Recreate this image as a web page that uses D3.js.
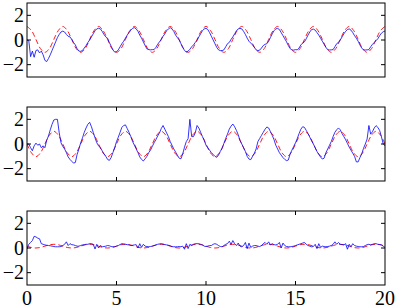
<!DOCTYPE html>
<html>
<head>
<meta charset="utf-8">
<script src="https://cdn.jsdelivr.net/npm/d3@7"></script>
<style>
  html, body { margin: 0; padding: 0; background: #fff; }
  svg { display: block; }
  .tick-label { font-family: "Times New Roman", "Liberation Serif", serif; font-size: 20px; }
</style>
</head>
<body>
<div id="container"></div>
<script>
// DATA
// blue traces sampled every 0.1, red reference traces every 0.25
const blueStep = 0.1;
const redStep = 0.25;

const blue1 = [
  0, -0.05, -1.35, -0.9, -1.4, -0.85, -0.8, -1.05, -0.9, -1.2,
  -1.65, -1.75, -1.5, -1.2, -0.85, -0.5, -0.15, 0.2, 0.45, 0.65,
  0.72, 0.65, 0.45, 0.3, 0.25, 0.05, -0.2, -0.4, -0.7, -0.9,
  -0.92, -0.85, -0.65, -0.45, -0.2, 0.0, 0.25, 0.5, 0.75, 0.9,
  0.95, 0.9, 0.7, 0.45, 0.25, 0.15, -0.2, -0.5, -0.8, -0.98,
  -0.95, -0.8, -0.55, -0.3, -0.1, 0.15, 0.4, 0.6, 0.8, 0.95,
  1.0, 0.9, 0.7, 0.4, 0.15, -0.15, -0.45, -0.72, -0.78, -0.8,
  -0.78, -0.78, -0.6, -0.35, -0.15, 0.05, 0.3, 0.5, 0.75, 0.9,
  1.0, 0.9, 0.7, 0.4, 0.2, 0.0, -0.3, -0.6, -0.85, -0.98,
  -0.9, -0.75, -0.55, -0.4, -0.2, -0.05, 0.25, 0.5, 0.75, 0.9,
  0.95, 0.85, 0.6, 0.3, 0.0, -0.3, -0.6, -0.8, -0.86, -0.86,
  -0.8, -0.55, -0.3, -0.2, 0.05, 0.25, 0.5, 0.75, 0.9, 0.94,
  0.9, 0.7, 0.45, 0.15, -0.1, -0.25, -0.4, -0.6, -0.8, -0.86,
  -0.82, -0.65, -0.45, -0.35, -0.3, -0.1, 0.2, 0.5, 0.75, 0.9,
  0.94, 0.85, 0.6, 0.35, 0.1, -0.15, -0.45, -0.7, -0.8, -0.82,
  -0.78, -0.8, -0.65, -0.4, -0.25, -0.15, 0.1, 0.4, 0.65, 0.85,
  0.88, 0.8, 0.6, 0.4, 0.15, -0.1, -0.35, -0.6, -0.78, -0.81,
  -0.8, -0.78, -0.55, -0.3, -0.2, 0.0, 0.25, 0.5, 0.7, 0.85,
  0.9, 0.8, 0.6, 0.35, 0.15, -0.1, -0.4, -0.65, -0.8, -0.81,
  -0.8, -0.78, -0.55, -0.35, -0.2, -0.05, 0.1, 0.35, 0.55, 0.67,
  0.73
];

const blue2 = [
  0, 0, -0.3, -0.55, -0.15, 0.07, -0.1, 0.0, -0.3, -0.15,
  -0.3, 0.3, 0.65, 1.15, 1.6, 1.95, 2.0, 2.0, 0.9, 0.1,
  -0.2, -0.4, -0.7, -1.05, -1.25, -1.4, -1.55, -1.5, -0.85, -0.4,
  0.1, 0.5, 0.95, 1.3, 1.6, 1.76, 1.4, 0.95, 0.5, 0.1,
  -0.15, -0.3, -0.55, -0.8, -1.0, -1.25, -1.33, -1.1, -0.7, -0.3,
  0.2, 0.55, 0.95, 1.35, 1.5, 1.55, 1.25, 0.95, 0.6, 0.2,
  -0.1, -0.4, -0.7, -1.05, -1.25, -1.38, -1.2, -1.0, -0.7, -0.5,
  -0.2, 0.1, 0.35, 0.65, 0.9, 1.25, 1.5, 1.2, 0.9, 0.6,
  0.2, -0.1, -0.4, -0.65, -0.9, -1.15, -1.2, -0.8, -0.25, 0.2,
  0.43, 2.0, 0.6, 0.6, 0.9, 1.5, 1.3, 0.95, 0.6, 0.3,
  -0.1, -0.3, -0.5, -0.7, -0.85, -1.0, -1.08, -0.9, -0.6, -0.35,
  0.05, 0.45, 0.8, 1.2, 1.45, 1.62, 1.4, 1.1, 0.75, 0.27,
  0.0, -0.3, -0.6, -1.0, -1.22, -1.27, -1.0, -0.75, -0.4, 0.2,
  0.45, 0.7, 0.95, 1.2, 1.38, 1.3, 1.0, 0.7, 0.35, -0.1,
  -0.4, -0.7, -0.9, -1.1, -1.25, -1.35, -1.3, -0.8, -0.5, -0.2,
  0.1, 0.45, 0.85, 1.2, 1.4, 1.35, 1.1, 0.85, 0.55, 0.25,
  0.0, -0.3, -0.6, -0.85, -1.05, -1.22, -1.15, -0.7, -0.4, -0.1,
  0.2, 0.6, 0.95, 1.15, 1.3, 1.15, 0.85, 0.6, 0.35, 0.05,
  -0.25, -0.5, -0.75, -1.0, -1.45, -1.45, -1.1, -0.8, -0.35, 0.0,
  0.4, 1.5, 0.8, 1.0, 1.3, 1.49, 1.35, 1.1, 0.6, 0.0,
  -0.14
];

const blue3 = [
  -0.08, 0.3, 0.45, 0.6, 0.95, 0.9, 0.8, 0.75, 0.35, 0.3,
  0.25, 0.22, 0.2, 0.18, 0.15, 0.12, 0.1, 0.1, 0.1, 0.12,
  0.2, 0.3, 0.5, 0.2, 0.35, 0.27, 0.25, 0.2, 0.15, 0.15,
  0.2, 0.25, 0.27, 0.3, 0.3, 0.35, 0.35, 0.3, -0.08, 0.3,
  0.0, 0.2, 0.1, 0.12, 0.15, 0.2, 0.18, 0.12, 0.1, 0.1,
  0.15, 0.2, 0.28, 0.35, 0.33, 0.3, 0.27, 0.25, 0.2, 0.22,
  0.25, 0.27, 0.0, 0.35, 0.05, 0.3, 0.15, 0.12, 0.1, 0.12,
  0.15, 0.2, 0.25, 0.3, 0.33, 0.35, 0.32, 0.28, 0.25, 0.22,
  0.18, 0.12, 0.1, 0.1, 0.1, 0.12, 0.1, 0.15, -0.1, 0.35,
  -0.05, 0.3, 0.2, 0.3, 0.35, 0.35, 0.35, 0.3, 0.25, 0.15,
  0.12, 0.15, 0.2, 0.2, 0.3, 0.35, 0.3, 0.2, 0.12, 0.1,
  0.2, 0.3, 0.35, 0.55, 0.3, 0.6, 0.35, 0.2, 0.4, 0.15,
  0.1, 0.2, 0.45, -0.05, 0.4, 0.05, 0.15, 0.2, 0.2, 0.15,
  0.12, 0.2, 0.35, 0.45, 0.3, 0.5, 0.25, 0.35, 0.27, 0.25,
  0.3, 0.45, 0.0, 0.4, 0.2, 0.12, 0.1, 0.1, 0.12, 0.15,
  0.2, 0.25, 0.3, 0.35, 0.4, 0.45, 0.3, 0.2, 0.15, 0.1,
  0.12, 0.3, -0.05, 0.35, 0.05, 0.15, 0.12, 0.1, 0.12, 0.15,
  0.2, 0.3, 0.5, 0.3, 0.45, 0.3, 0.27, 0.25, 0.35, -0.1,
  0.3, 0.1, 0.35, 0.2, 0.15, 0.12, 0.1, 0.1, 0.12, 0.2,
  0.27, 0.3, 0.25, 0.3, 0.35, 0.35, 0.3, 0.28, 0.25, 0.15,
  0.05
];

const red1 = [
  1.1, 0.77, 0.05, -0.7, -1.0, -0.7, 0.05, 0.77,
  1.1, 0.77, 0.05, -0.7, -1.0, -0.7, 0.05, 0.77,
  1.1, 0.77, 0.05, -0.7, -1.0, -0.7, 0.05, 0.77,
  1.1, 0.77, 0.05, -0.7, -1.0, -0.7, 0.05, 0.77,
  1.1, 0.77, 0.05, -0.7, -1.0, -0.7, 0.05, 0.77,
  1.1, 0.77, 0.05, -0.7, -1.0, -0.7, 0.05, 0.77,
  1.1, 0.77, 0.05, -0.7, -1.0, -0.7, 0.05, 0.77,
  1.1, 0.77, 0.05, -0.7, -1.0, -0.7, 0.05, 0.77,
  1.1, 0.77, 0.05, -0.7, -1.0, -0.7, 0.05, 0.77,
  1.1, 0.77, 0.05, -0.7, -1.0, -0.7, 0.05, 0.77,
  1.1
];

const red2 = [
  0, -0.72, -1.03, -0.72, 0, 0.72, 1.03, 0.72,
  0, -0.72, -1.03, -0.72, 0, 0.72, 1.03, 0.72,
  0, -0.72, -1.03, -0.72, 0, 0.72, 1.03, 0.72,
  0, -0.72, -1.03, -0.72, 0, 0.72, 1.03, 0.72,
  0, -0.72, -1.03, -0.72, 0, 0.72, 1.03, 0.72,
  0, -0.72, -1.03, -0.72, 0, 0.72, 1.03, 0.72,
  0, -0.72, -1.03, -0.72, 0, 0.72, 1.03, 0.72,
  0, -0.72, -1.03, -0.72, 0, 0.72, 1.03, 0.72,
  0, -0.72, -1.03, -0.72, 0, 0.72, 1.03, 0.72,
  0, -0.72, -1.03, -0.72, 0, 0.72, 1.03, 0.72,
  0
];

const red3 = [
  0.15, 0.04, 0.0, 0.04, 0.15, 0.26, 0.3, 0.26,
  0.15, 0.04, 0.0, 0.04, 0.15, 0.26, 0.3, 0.26,
  0.15, 0.04, 0.0, 0.04, 0.15, 0.26, 0.3, 0.26,
  0.15, 0.04, 0.0, 0.04, 0.15, 0.26, 0.3, 0.26,
  0.15, 0.04, 0.0, 0.04, 0.15, 0.26, 0.3, 0.26,
  0.15, 0.04, 0.0, 0.04, 0.15, 0.26, 0.3, 0.26,
  0.15, 0.04, 0.0, 0.04, 0.15, 0.26, 0.3, 0.26,
  0.15, 0.04, 0.0, 0.04, 0.15, 0.26, 0.3, 0.26,
  0.15, 0.04, 0.0, 0.04, 0.15, 0.26, 0.3, 0.26,
  0.15, 0.04, 0.0, 0.04, 0.15, 0.26, 0.3, 0.26,
  0.15
];

const xTicks = [0, 5, 10, 15, 20];
const yTicks = [-2, 0, 2];

// LAYOUT
const width = 399;
const height = 308;
const margin = ({left: 27, right: 14});
const panelTops = [3, 107, 211];
const panelHeight = 74;
const tickLen = 4;

const panels = [
  {blue: blue1, red: red1, labelX: false},
  {blue: blue2, red: red2, labelX: false},
  {blue: blue3, red: red3, labelX: true}
];

const x = d3.scaleLinear([0, 20], [margin.left, width - margin.right]);

const svg = d3.select('#container')
  .append('svg')
  .attr('width', width)
  .attr('height', height)
  .attr('viewBox', [0, 0, width, height]);

function toPoints(values, step) {
  return values.map((v, i) => [i * step, v]);
}

function drawPanel(panel, top) {
  const y = d3.scaleLinear([-3, 3], [top + panelHeight, top]);
  const g = svg.append('g');

  const clipId = 'clip' + top;
  g.append('clipPath').attr('id', clipId)
    .append('rect')
    .attr('x', x(0)).attr('y', y(3))
    .attr('width', x(20) - x(0)).attr('height', y(-3) - y(3));

  const line = d3.line().x(d => x(d[0])).y(d => y(d[1]));

  g.append('path')
    .attr('clip-path', `url(#${clipId})`)
    .attr('fill', 'none')
    .attr('stroke', '#ff0000')
    .attr('stroke-width', 0.9)
    .attr('stroke-dasharray', '5,3')
    .attr('d', line.curve(d3.curveCatmullRom)(toPoints(panel.red, redStep)));

  g.append('path')
    .attr('clip-path', `url(#${clipId})`)
    .attr('fill', 'none')
    .attr('stroke', '#0000ff')
    .attr('stroke-width', 0.8)
    .attr('stroke-linejoin', 'round')
    .attr('d', line.curve(d3.curveLinear)(toPoints(panel.blue, blueStep)));

  // box axes with inward ticks on all four sides
  const axes = g.append('g')
    .attr('fill', 'none')
    .attr('stroke', '#000')
    .attr('stroke-width', 1);

  axes.append('rect')
    .attr('x', x(0)).attr('y', y(3))
    .attr('width', x(20) - x(0)).attr('height', y(-3) - y(3));

  axes.selectAll('.yt')
    .data(yTicks)
    .join('path')
    .attr('d', d => `M${x(0)},${y(d)}h${tickLen}M${x(20)},${y(d)}h${-tickLen}`);

  axes.selectAll('.xt')
    .data(xTicks.slice(1, -1))
    .join('path')
    .attr('d', d => `M${x(d)},${y(-3)}v${-tickLen}M${x(d)},${y(3)}v${tickLen}`);

  g.append('g')
    .attr('text-anchor', 'end')
    .selectAll('text')
    .data(yTicks)
    .join('text')
    .attr('class', 'tick-label')
    .attr('x', x(0) - 3)
    .attr('y', d => y(d))
    .attr('dy', '0.34em')
    .text(d => d < 0 ? '\u2212' + Math.abs(d) : d);

  if (panel.labelX) {
    g.append('g')
      .attr('text-anchor', 'middle')
      .selectAll('text')
      .data(xTicks)
      .join('text')
      .attr('class', 'tick-label')
      .attr('x', d => x(d))
      .attr('y', y(-3) + 20)
      .text(d => d);
  }
}

panels.forEach((p, i) => drawPanel(p, panelTops[i]));
</script>
</body>
</html>
